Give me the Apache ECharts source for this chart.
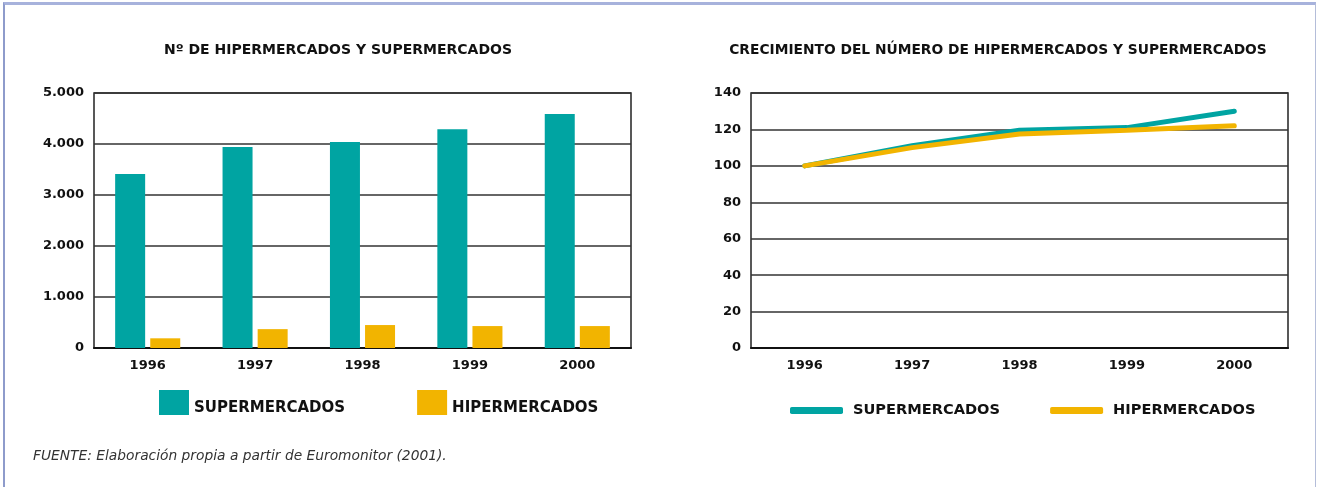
<!DOCTYPE html>
<html>
<head>
<meta charset="utf-8">
<script src="https://cdn.jsdelivr.net/npm/echarts@6/dist/echarts.min.js"></script>
<style>
  html, body { margin: 0; padding: 0; background: #fff; }
  #chart { width: 1317px; height: 487px; }
  /* marco azul alrededor de la figura */
  .frame {
    position: absolute; left: 3px; top: 2px; width: 1310px; height: 500px;
    border-top: 3px solid #a7b2dc; border-left: 2px solid #8e9bcb; border-right: 1px solid #b4bdd9;
    pointer-events: none;
  }
</style>
</head>
<body>
<div id="chart"></div>
<div class="frame"></div>
<script>
const years = ['1996', '1997', '1998', '1999', '2000']
// número de establecimientos
const superCount = [3410, 3940, 4040, 4290, 4590]
const hiperCount = [190, 370, 450, 430, 430]
// índice de crecimiento (1996 = 100)
const superIndex = [100, 111, 119.5, 121, 130]
const hiperIndex = [100, 110, 117.5, 119.5, 122]

const TEAL = '#00a4a2'
const GOLD = '#f2b400'
const FONT = 'DejaVu Sans'

const chart = echarts.init(document.getElementById('chart'))

const axisLabel = { color: '#111', fontFamily: FONT, fontWeight: 'bold', fontSize: 13 }
const splitLine = { show: true, lineStyle: { color: '#333', width: 1.5 } }
// cuadrado de leyenda con hueco debajo, así el texto queda más bajo que el centro del cuadro
const boxIcon = 'path://M0,0 L30,0 L30,25 L0,25 Z M0,37 L0,37.01'

chart.setOption({
  animation: false,
  color: [TEAL, GOLD],
  textStyle: { fontFamily: FONT },
  title: [
    {
      text: 'Nº DE HIPERMERCADOS Y SUPERMERCADOS',
      left: 333, top: 38, textAlign: 'center',
      textStyle: { fontFamily: FONT, fontSize: 14, fontWeight: 'bold', color: '#111' }
    },
    {
      text: 'CRECIMIENTO DEL NÚMERO DE HIPERMERCADOS Y SUPERMERCADOS',
      left: 993, top: 38, textAlign: 'center',
      textStyle: { fontFamily: FONT, fontSize: 13.8, fontWeight: 'bold', color: '#111' }
    },
    {
      text: 'FUENTE: Elaboración propia a partir de Euromonitor (2001).',
      left: 28, top: 444,
      textStyle: { fontFamily: FONT, fontSize: 13.8, fontStyle: 'italic', fontWeight: 'normal', color: '#333' }
    }
  ],
  legend: [
    {
      data: ['SUPERMERCADOS', 'HIPERMERCADOS'],
      left: 154, top: 385,
      icon: boxIcon, itemWidth: 30, itemHeight: 37, itemGap: 72,
      textStyle: { fontFamily: FONT, fontWeight: 'bold', fontSize: 15, color: '#111' }
    },
    {
      data: ['SUPERMERCADOS ', 'HIPERMERCADOS '],
      left: 785, top: 398,
      icon: 'roundRect', itemWidth: 53, itemHeight: 7, itemGap: 45,
      textStyle: { fontFamily: FONT, fontWeight: 'bold', fontSize: 14.6, color: '#111', padding: [0, 0, 0, 5] }
    }
  ],
  grid: [
    { left: 94, right: 686, top: 93, bottom: 139, show: true, borderColor: '#222', borderWidth: 1.5 },
    { left: 751, right: 29, top: 93, bottom: 139, show: true, borderColor: '#222', borderWidth: 1.5 }
  ],
  xAxis: [
    {
      gridIndex: 0, type: 'category', data: years,
      axisTick: { show: false },
      axisLine: { lineStyle: { color: '#111', width: 2 } },
      axisLabel: { ...axisLabel, margin: 11 }
    },
    {
      gridIndex: 1, type: 'category', data: years,
      axisTick: { show: false },
      axisLine: { lineStyle: { color: '#111', width: 2 } },
      axisLabel: { ...axisLabel, margin: 11 }
    }
  ],
  yAxis: [
    {
      gridIndex: 0, type: 'value', min: 0, max: 5000, interval: 1000,
      axisLine: { show: false }, axisTick: { show: false },
      splitLine: splitLine,
      axisLabel: {
        ...axisLabel, margin: 10,
        formatter: (v) => v === 0 ? '0' : (v / 1000).toFixed(0) + '.000'
      }
    },
    {
      gridIndex: 1, type: 'value', min: 0, max: 140, interval: 20,
      axisLine: { show: false }, axisTick: { show: false },
      splitLine: splitLine,
      axisLabel: { ...axisLabel, margin: 10 }
    }
  ],
  series: [
    {
      name: 'SUPERMERCADOS', type: 'bar', xAxisIndex: 0, yAxisIndex: 0,
      data: superCount, barWidth: 30, barGap: '17%',
      itemStyle: { color: TEAL }
    },
    {
      name: 'HIPERMERCADOS', type: 'bar', xAxisIndex: 0, yAxisIndex: 0,
      data: hiperCount, barWidth: 30,
      itemStyle: { color: GOLD }
    },
    {
      name: 'SUPERMERCADOS ', type: 'line', xAxisIndex: 1, yAxisIndex: 1,
      data: superIndex, showSymbol: false, symbol: 'none',
      lineStyle: { color: TEAL, width: 5, cap: 'round' },
      itemStyle: { color: TEAL }
    },
    {
      name: 'HIPERMERCADOS ', type: 'line', xAxisIndex: 1, yAxisIndex: 1,
      data: hiperIndex, showSymbol: false, symbol: 'none',
      lineStyle: { color: GOLD, width: 5, cap: 'round' },
      itemStyle: { color: GOLD }
    }
  ]
})
</script>
</body>
</html>
